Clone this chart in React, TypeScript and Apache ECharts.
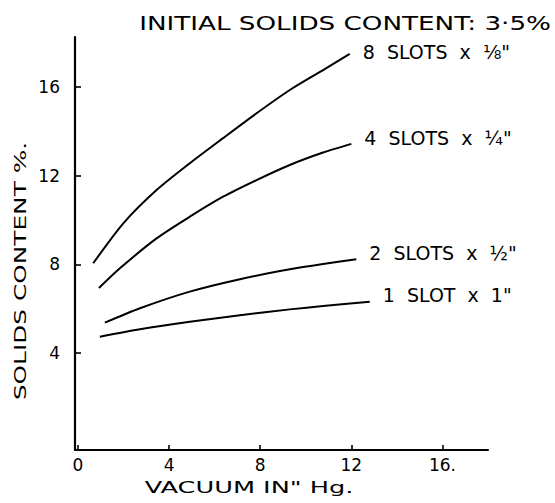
import React, { useEffect, useRef } from "react";
import * as echarts from "echarts";

const xTicks = [0, 4, 8, 12, 16];
const yTicks = [4, 8, 12, 16];

const seriesNames = ["8  SLOTS  x  ⅛\"", "4  SLOTS  x  ¼\"", "2  SLOTS  x  ½\"", "1  SLOT  x  1\""];

const slots8: [number, number][] = [
  [0.67, 8.05], [1.99, 9.85], [3.45, 11.35], [4.91, 12.56], [6.37, 13.69],
  [7.84, 14.81], [9.3, 15.86], [10.76, 16.76], [11.93, 17.49],
];
const slots4: [number, number][] = [
  [0.92, 6.93], [1.84, 7.82], [3.45, 9.17], [4.91, 10.15], [6.37, 11.05],
  [7.84, 11.8], [9.3, 12.48], [10.76, 13.04], [12.0, 13.43],
];
const slots2: [number, number][] = [
  [1.18, 5.37], [2.72, 6.02], [4.91, 6.77], [7.11, 7.33], [9.3, 7.78],
  [10.76, 8.02], [12.22, 8.23],
];
const slots1: [number, number][] = [
  [0.96, 4.74], [2.72, 5.07], [4.91, 5.41], [7.11, 5.71], [9.3, 5.97],
  [10.76, 6.12], [12.81, 6.31],
];

const seriesData = [slots8, slots4, slots2, slots1];
const labelOffsets: [number, number][] = [[5, -2], [5, -6], [5, -6], [5, -7]];

const titleText = "INITIAL SOLIDS CONTENT: 3·5%";
const xName = "VACUUM IN\" Hg.";
const yName = "SOLIDS CONTENT %.";

const FONT = "DejaVu Sans";

export default function App() {
  const ref = useRef<HTMLDivElement>(null);
  useEffect(() => {
    if (!ref.current) return;
    document.body.style.margin = "0";
    const chart = echarts.init(ref.current, undefined, { renderer: "svg" });
    chart.setOption({
      animation: false,
      backgroundColor: "#fff",
      grid: { left: 75, right: 67, top: 37, bottom: 53, containLabel: false },
      xAxis: {
        type: "value",
        min: -0.13,
        max: 18,
        splitLine: { show: false },
        axisLine: { show: true, onZero: false, lineStyle: { color: "#000", width: 2.2 } },
        axisTick: { show: true, inside: true, length: 5, customValues: xTicks, lineStyle: { color: "#000", width: 1.6 } },
        axisLabel: {
          show: true,
          customValues: xTicks,
          margin: 6,
          color: "#000",
          fontFamily: FONT,
          fontSize: 17,
          formatter: (v: number) => (v === 16 ? "16." : String(v)),
        },
      },
      yAxis: {
        type: "value",
        min: -0.37,
        max: 18.25,
        splitLine: { show: false },
        axisLine: { show: true, onZero: false, lineStyle: { color: "#000", width: 2.2 } },
        axisTick: { show: true, inside: true, length: 6, customValues: yTicks, lineStyle: { color: "#000", width: 1.6 } },
        axisLabel: {
          show: true,
          customValues: yTicks,
          margin: 15,
          color: "#000",
          fontFamily: FONT,
          fontSize: 17,
        },
      },
      graphic: [
        {
          type: "text",
          x: 551,
          y: 23,
          scaleX: 1.38,
          style: {
            text: titleText,
            fontFamily: FONT,
            fontSize: 19,
            fill: "#000",
            align: "right",
            verticalAlign: "middle",
          },
        },
        {
          type: "text",
          x: 249,
          y: 487,
          scaleX: 1.6,
          style: {
            text: xName,
            fontFamily: FONT,
            fontSize: 16,
            fill: "#000",
            align: "center",
            verticalAlign: "middle",
          },
        },
        {
          type: "text",
          x: 21,
          y: 271,
          rotation: Math.PI / 2,
          scaleX: 1.55,
          style: {
            text: yName,
            fontFamily: FONT,
            fontSize: 16,
            fill: "#000",
            align: "center",
            verticalAlign: "middle",
          },
        },
      ],
      series: seriesData.map((d, i) => ({
        type: "line",
        name: seriesNames[i],
        data: d,
        smooth: 0.25,
        showSymbol: false,
        symbol: "none",
        lineStyle: { color: "#000", width: 2 },
        endLabel: {
          show: true,
          formatter: seriesNames[i],
          offset: labelOffsets[i],
          color: "#000",
          fontFamily: FONT,
          fontSize: 19,
        },
      })),
    });
    return () => chart.dispose();
  }, []);
  return <div ref={ref} style={{ width: 555, height: 503 }} />;
}
